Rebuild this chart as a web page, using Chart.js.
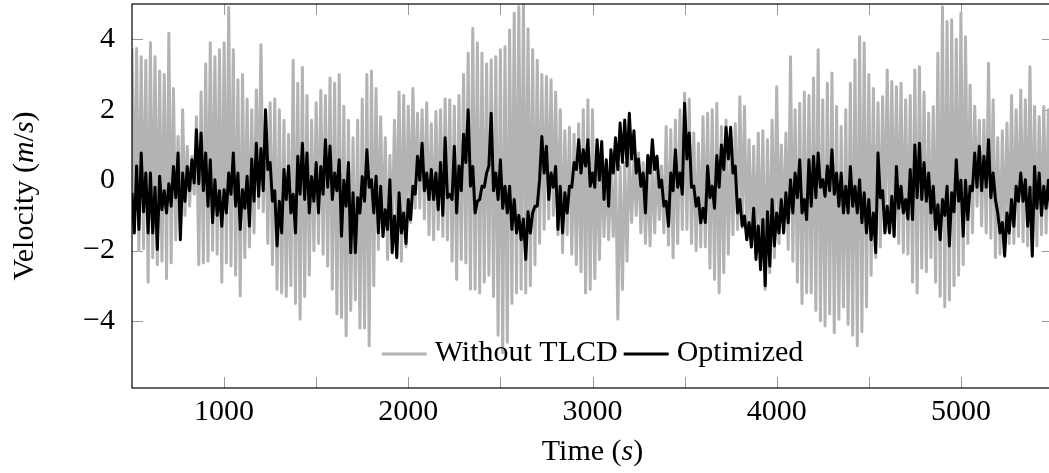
<!DOCTYPE html>
<html lang="en">
<head>
    <meta charset="UTF-8">
    <title>Velocity: Without TLCD vs Optimized</title>
    <script src="https://cdn.jsdelivr.net/npm/chart.js"></script>
    <style>
        body {
            margin: 0;
            background: #fff;
            overflow: hidden;
        }

        .chart-container {
            width: 1056px;
            height: 473px;
        }
    </style>
</head>
<body>
    <div class="chart-container">
        <canvas id="velocityChart"></canvas>
    </div>

    <script>
        // peaks read every 25 s from 500 s, troughs 12.5 s after each peak
        const firstTime = 500;
        const peakStep = 25;

        const grayHigh = [
            3.74, 3.74, 3.5, 3.4, 3.9, 3.5, 3.1, 3.0, 4.17, 2.6,
            1.24, 2.0, 0.96, 0.67, 1.8, 2.5, 3.3, 3.9, 3.5, 3.7,
            3.9, 4.9, 3.7, 2.85, 3.0, 2.3, 2.0, 2.56, 3.84, 1.8,
            2.2, 2.3, 2.0, 1.7, 1.3, 3.4, 2.75, 3.2, 2.4, 1.7,
            2.2, 2.55, 2.4, 2.9, 2.75, 3.0, 2.1, 1.7, 1.2, 1.7,
            2.3, 3.0, 3.1, 2.6, 1.8, 1.2, 0.7, 1.7, 2.5, 2.4,
            2.1, 2.6, 1.9, 2.0, 2.2, 1.6, 1.95, 2.0, 2.3, 2.28,
            2.1, 2.4, 3.0, 3.6, 4.31, 3.89, 3.6, 3.3, 3.41, 3.5,
            3.7, 3.79, 4.26, 4.74, 4.92, 5.0, 4.3, 3.7, 3.4, 3.0,
            2.94, 2.85, 2.5, 2.0, 1.4, 1.5, 1.3, 1.6, 2.0, 2.28,
            2.0, 1.0, 0.8, 0.5, 0.4, 0.6, 0.4, 0.5, 0.9, 0.6,
            0.77, 0.5, 0.4, 0.67, 0.6, 0.4, 1.52, 1.43, 1.71, 2.0,
            2.47, 2.3, 1.34, 1.05, 1.8, 1.9, 2.0, 2.18, 1.52, 1.71,
            1.0, 1.6, 2.37, 2.09, 1.15, 0.96, 1.34, 1.4, 1.15, 1.71,
            2.65, 1.0, 1.34, 3.5, 2.0, 2.18, 2.5, 2.4, 2.9, 3.7,
            2.28, 2.75, 3.04, 2.09, 1.52, 2.0, 2.75, 3.41, 4.07, 3.89,
            3.0, 2.6, 2.2, 2.37, 3.13, 2.8, 2.65, 2.75, 2.28, 2.4,
            3.13, 3.22, 2.5, 1.9, 2.09, 3.6, 4.92, 4.5, 4.55, 4.0,
            4.74, 4.07, 2.7, 2.1, 1.7, 1.71, 3.32, 2.28, 1.2, 1.4,
            1.62, 2.4, 2.0, 2.56, 2.28, 3.22, 2.09, 1.8, 2.09, 2.0
        ];
        const grayLow = [
            -1.5, -2.0, -1.95, -2.9, -2.2, -2.4, -2.3, -2.8, -2.35, -1.7,
            -1.5, -1.0, -0.74, -0.4, -2.4, -2.35, -2.3, -2.0, -2.1, -2.9,
            -2.35, -2.44, -2.7, -3.29, -2.2, -1.9, -1.5, -0.8, -0.9, -1.8,
            -2.4, -3.1, -3.2, -3.3, -3.0, -3.5, -3.95, -3.3, -2.7, -2.0,
            -1.8, -2.1, -2.44, -3.1, -3.8, -3.9, -4.42, -3.7, -3.4, -4.2,
            -4.2, -4.7, -3.0, -1.97, -1.6, -2.25, -1.55, -1.4, -2.3, -1.9,
            -1.2, -0.8, -0.8, -1.1, -1.55, -1.69, -1.4, -1.6, -1.7, -2.3,
            -2.82, -2.25, -2.35, -3.1, -3.1, -3.2, -2.9, -2.7, -3.3, -4.4,
            -4.9, -4.6, -3.5, -3.2, -3.1, -3.2, -3.0, -2.4, -1.8, -1.4,
            -1.1, -1.0, -1.55, -2.06, -1.55, -2.1, -2.4, -2.6, -3.2, -3.1,
            -2.8, -2.25, -1.6, -1.69, -1.6, -3.95, -3.1, -2.3, -1.2, -1.0,
            -1.5, -1.8, -1.87, -1.5, -1.12, -1.5, -1.85, -2.2, -1.8, -1.4,
            -1.4, -1.8, -2.0, -1.9, -1.9, -2.5, -2.82, -3.2, -2.63, -2.1,
            -1.55, -1.4, -1.35, -1.69, -1.87, -2.06, -2.25, -3.1, -2.63, -2.2,
            -1.8, -1.5, -1.97, -2.3, -2.9, -3.5, -3.2, -3.2, -3.7, -4.0,
            -4.14, -3.8, -4.33, -3.95, -3.6, -4.1, -4.4, -4.7, -4.3, -3.6,
            -2.7, -2.2, -1.9, -1.5, -1.4, -1.6, -1.8, -2.06, -2.1, -2.9,
            -3.2, -2.5, -2.6, -2.2, -2.9, -3.3, -3.6, -3.4, -3.0, -2.7,
            -2.4, -1.8, -1.5, -0.74, -1.3, -1.5, -1.65, -2.2, -2.1, -1.8,
            -1.8, -1.8, -1.6, -1.75, -1.87, -2.06, -1.87, -1.55, -1.5, -1.6
        ];
        const blackHigh = [
            -0.36, 0.4, 0.77, 0.2, 0.2, -0.2, 0.11, -0.3, -0.1, 0.39,
            0.77, 0.2, 0.39, 0.58, 1.43, 1.34, 0.77, 0.58, 0.01, -0.3,
            -0.27, 0.2, 0.77, 0.2, -0.27, 0.11, 0.6, 1.05, 0.9, 2.0,
            0.5, -0.3, -0.6, 0.3, 0.4, -0.4, 0.68, 1.05, 0.77, 0.1,
            0.5, 0.39, 1.15, 0.97, 0.2, 0.58, 0.0, 0.5, -0.36, -0.5,
            0.1, 0.86, 0.01, 0.11, -0.17, -0.84, 0.01, -1.02, -0.36, -0.93,
            -0.55, -0.17, 0.68, 1.05, 0.2, 0.3, 0.2, 0.5, 1.2, -0.4,
            0.96, 0.4, 1.3, 2.0, 0.39, -0.6, -0.17, 0.2, 1.9, 0.2,
            0.58, -0.17, -0.17, -0.55, -1.0, -1.1, -0.9, -0.93, -0.74, 1.24,
            0.96, 0.2, 0.39, -0.17, -0.36, -0.17, 0.5, 1.15, 0.86, 1.15,
            0.2, 1.15, 1.1, 0.58, 0.86, 1.2, 1.62, 1.71, 1.9, 1.4,
            0.6, 0.2, 0.7, 1.15, 0.68, 0.0, -0.6, 0.2, 0.86, 0.2,
            2.18, 1.34, -0.17, -0.5, -0.8, 0.4, -0.17, 0.7, 1.0, 1.5,
            1.5, 0.4, -0.55, -1.02, -1.2, -0.8, -1.3, -1.12, -0.9, -0.55,
            -0.93, -0.55, -0.36, 0.01, 0.2, 0.58, -0.55, 0.58, 0.68, 0.77,
            0.01, 0.4, 0.86, 0.2, 0.2, -0.17, 0.39, -0.17, 0.01, -0.36,
            -0.55, -0.93, 0.77, -0.3, -0.74, -0.46, 0.39, -0.17, -0.55, 0.3,
            1.0, 1.05, 0.5, 0.2, -0.17, -0.7, -0.55, -0.17, -0.36, 0.58,
            0.0, 0.0, -0.17, 0.77, 0.96, 0.68, 1.15, 0.2, -0.93, -1.2,
            -0.93, -0.55, -0.17, 0.2, 0.01, -0.2, 0.39, 0.2, -0.17, 0.0
        ];
        const blackLow = [
            -1.5, -1.4, -0.9, -1.5, -1.5, -1.97, -0.84, -0.93, -0.74, -0.5,
            -1.69, -0.6, -0.3, -0.08, -0.1, -0.3, -0.74, -1.21, -1.0, -1.31,
            -0.93, -0.4, -0.74, -1.4, -0.8, -1.31, -0.6, -0.46, -0.3, 0.3,
            -0.6, -1.87, -1.5, -0.55, -0.93, -1.5, -0.4, -0.55, -0.93, -0.6,
            -0.93, -0.4, -0.2, -0.55, -0.3, -1.59, -0.74, -2.06, -2.06, -0.93,
            -0.6, -0.2, -0.93, -1.5, -1.6, -1.4, -2.06, -2.2, -1.5, -1.8,
            -1.12, -0.4, 0.0, -0.3, -0.55, -0.55, -0.84, -1.0, -0.5, -0.55,
            -0.93, -0.3, 0.5, -0.17, -0.93, -0.55, -0.2, 0.4, -0.3, -0.55,
            -0.8, -0.93, -1.4, -1.5, -1.69, -2.25, -1.5, -0.74, 0.0, 0.2,
            -0.55, -0.2, -1.4, -1.5, -0.93, -0.2, 0.3, 0.2, 0.4, -0.17,
            -0.2, 0.0, -0.55, -0.74, 0.2, 0.3, 0.5, 0.4, 0.6, 0.2,
            -0.17, -0.93, 0.2, 0.3, -0.2, -0.74, -1.31, -0.3, -0.2, -0.4,
            0.6, -0.2, -0.74, -1.21, -1.2, -0.5, -0.8, -0.2, 0.3, 0.6,
            0.2, -0.93, -1.3, -1.69, -1.9, -2.25, -2.54, -3.0, -2.44, -1.87,
            -1.5, -1.5, -1.21, -0.93, -0.5, -0.93, -1.12, -0.74, -0.5, -0.2,
            -0.46, -0.3, -0.4, -0.74, -0.93, -0.93, -0.74, -0.93, -1.21, -1.5,
            -1.69, -2.06, -0.5, -1.5, -1.5, -1.6, -0.8, -0.93, -1.1, -1.12,
            -0.5, -0.55, -0.6, -0.93, -1.4, -1.69, -1.0, -1.87, -0.9, -0.6,
            -1.59, -1.12, -0.3, -0.2, -0.3, -0.2, -0.5, -0.55, -1.5, -2.16,
            -1.5, -1.31, -0.6, -0.6, -1.31, -2.16, -0.8, -1.0, -0.8, -0.9
        ];

        const xTickLabels = [1000, 2000, 3000, 4000, 5000];
        const xMinorTicks = [1500, 2500, 3500, 4500];
        const yTickLabels = [-4, -2, 0, 2, 4];
        const seriesNames = ['Without TLCD', 'Optimized'];

        const serif = "'Liberation Serif', 'DejaVu Serif', serif";

        function buildSeries(high, low) {
            const points = [];
            for (let i = 0; i < high.length; i++) {
                const t = firstTime + peakStep * i;
                points.push({ x: t, y: high[i] });
                points.push({ x: t + peakStep / 2, y: low[i] });
            }
            return points;
        }

        // text made of upright and italic pieces, centred on x
        function drawMixed(ctx, parts, x, y) {
            let width = 0;
            parts.forEach(p => {
                ctx.font = (p[1] ? 'italic ' : '') + '30px ' + serif;
                width += ctx.measureText(p[0]).width;
            });
            let cx = x - width / 2;
            parts.forEach(p => {
                ctx.font = (p[1] ? 'italic ' : '') + '30px ' + serif;
                ctx.fillText(p[0], cx, y);
                cx += ctx.measureText(p[0]).width;
            });
        }

        const framePlugin = {
            id: 'frame',
            beforeDatasetsDraw(chart) {
                const { ctx, chartArea: a, scales } = chart;
                ctx.save();
                ctx.strokeStyle = '#999';
                ctx.lineWidth = 1;
                ctx.beginPath();
                xTickLabels.concat(xMinorTicks).forEach(v => {
                    const px = Math.round(scales.x.getPixelForValue(v)) + 0.5;
                    ctx.moveTo(px, a.top);
                    ctx.lineTo(px, a.top + 11);
                    ctx.moveTo(px, a.bottom);
                    ctx.lineTo(px, a.bottom - 11);
                });
                yTickLabels.forEach(v => {
                    const py = Math.round(scales.y.getPixelForValue(v)) + 0.5;
                    ctx.moveTo(a.left, py);
                    ctx.lineTo(a.left + 11, py);
                    ctx.moveTo(a.right, py);
                    ctx.lineTo(a.right - 11, py);
                });
                ctx.stroke();
                ctx.restore();
            },
            afterDatasetsDraw(chart) {
                const { ctx, chartArea: a } = chart;
                ctx.save();
                ctx.strokeStyle = '#000';
                ctx.lineWidth = 1.2;
                ctx.strokeRect(a.left, a.top, a.right - a.left, a.bottom - a.top);

                // legend inside the plot, bottom centre, no frame
                ctx.font = '30px ' + serif;
                ctx.fillStyle = '#000';
                ctx.textBaseline = 'alphabetic';
                const lineLen = 45;
                const sets = chart.data.datasets;
                let total = 0;
                sets.forEach((ds, i) => {
                    total += lineLen + 8 + ctx.measureText(ds.label).width + (i < sets.length - 1 ? 6 : 0);
                });
                let x = (a.left + a.right) / 2 - total / 2;
                const base = a.bottom - 27;
                sets.forEach(ds => {
                    ctx.strokeStyle = ds.borderColor;
                    ctx.lineWidth = 3;
                    ctx.beginPath();
                    ctx.moveTo(x, base - 7);
                    ctx.lineTo(x + lineLen, base - 7);
                    ctx.stroke();
                    x += lineLen + 8;
                    ctx.fillText(ds.label, x, base);
                    x += ctx.measureText(ds.label).width + 6;
                });
                ctx.restore();
            },
            afterDraw(chart) {
                const { ctx, chartArea: a } = chart;
                ctx.save();
                ctx.fillStyle = '#000';
                ctx.textBaseline = 'alphabetic';
                drawMixed(ctx, [['Time (', false], ['s', true], [')', false]], (a.left + a.right) / 2, 460);

                ctx.translate(25, (a.top + a.bottom) / 2);
                ctx.rotate(-Math.PI / 2);
                ctx.textBaseline = 'middle';
                drawMixed(ctx, [['Velocity (', false], ['m', true], ['/', false], ['s', true], [')', false]], 0, 0);
                ctx.restore();
            }
        };

        const ctx = document.getElementById('velocityChart').getContext('2d');
        new Chart(ctx, {
            type: 'line',
            data: {
                datasets: [{
                    label: seriesNames[0],
                    data: buildSeries(grayHigh, grayLow),
                    borderColor: '#b3b3b3',
                    borderWidth: 3,
                    borderJoinStyle: 'round',
                    order: 1
                }, {
                    label: seriesNames[1],
                    data: buildSeries(blackHigh, blackLow),
                    borderColor: '#000000',
                    borderWidth: 3,
                    borderJoinStyle: 'round',
                    order: 0
                }]
            },
            options: {
                responsive: true,
                maintainAspectRatio: false,
                animation: false,
                layout: { padding: { top: 4, right: 3, left: 0, bottom: 0 } },
                elements: {
                    point: { radius: 0 },
                    line: { tension: 0, fill: false }
                },
                datasets: { line: { clip: 0 } },
                plugins: {
                    legend: { display: false },
                    tooltip: { enabled: false }
                },
                scales: {
                    x: {
                        type: 'linear',
                        min: 500,
                        max: 5500,
                        grid: { display: false },
                        border: { display: false },
                        afterBuildTicks: scale => {
                            scale.ticks = xTickLabels.map(v => ({ value: v }));
                        },
                        afterFit: scale => {
                            scale.height = 85;
                            scale.paddingLeft = 0;
                            scale.paddingRight = 0;
                        },
                        ticks: {
                            autoSkip: false,
                            maxRotation: 0,
                            padding: -2,
                            color: '#000',
                            font: { family: serif, size: 30 },
                            callback: v => String(v)
                        }
                    },
                    y: {
                        min: -5.9,
                        max: 5,
                        grid: { display: false },
                        border: { display: false },
                        afterBuildTicks: scale => {
                            scale.ticks = yTickLabels.map(v => ({ value: v }));
                        },
                        afterFit: scale => {
                            scale.width = 132;
                            scale.paddingTop = 0;
                            scale.paddingBottom = 0;
                        },
                        ticks: {
                            padding: 9,
                            color: '#000',
                            font: { family: serif, size: 30 },
                            callback: v => String(v).replace('-', '\u2212')
                        }
                    }
                }
            },
            plugins: [framePlugin]
        });
    </script>
</body>
</html>
